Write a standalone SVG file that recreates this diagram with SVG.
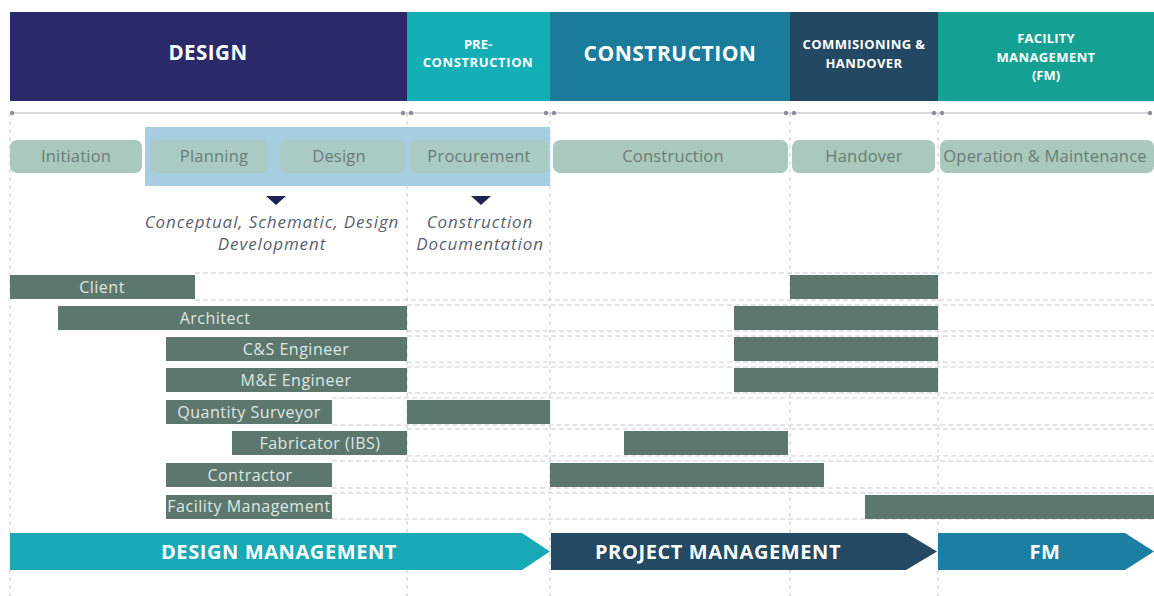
<svg xmlns="http://www.w3.org/2000/svg" width="1154" height="596" viewBox="0 0 1154 596">
<style>
.hd{font-family:"Open Sans","Liberation Sans",sans-serif;font-weight:700;fill:#ffffff;text-anchor:middle}
.pill{fill:#a8c9bb}
.pt{font-family:"Open Sans","Liberation Sans",sans-serif;font-size:16.5px;fill:#6b7c78;text-anchor:middle;letter-spacing:0.2px}
.it{font-family:"Open Sans","Liberation Sans",sans-serif;font-style:italic;font-size:17px;fill:#5a5f72;text-anchor:middle;letter-spacing:0.9px}
.bar{fill:#5c786e}
.bt{font-family:"Open Sans","Liberation Sans",sans-serif;font-size:16px;fill:#dfe7e4;text-anchor:middle;letter-spacing:0.5px}
.vd{stroke:#c4c8cc;stroke-width:1;stroke-dasharray:4 4;fill:none}
.hdash{stroke:#c8ccd2;stroke-width:1;stroke-dasharray:5 3;fill:none}
.ar{font-family:"Open Sans","Liberation Sans",sans-serif;font-weight:700;font-size:20px;fill:#ffffff;text-anchor:middle;letter-spacing:0.6px}
</style>
<rect width="1154" height="596" fill="#ffffff"/>
<g id="connectors">
<line x1="12" y1="113" x2="1150" y2="113" stroke="#b0b4ba" stroke-width="1.2"/>
<g fill="#8a8f96">
<circle cx="12" cy="113" r="2.2"/><circle cx="403" cy="113" r="2.2"/><circle cx="411" cy="113" r="2.2"/>
<circle cx="546" cy="113" r="2.2"/><circle cx="554" cy="113" r="2.2"/><circle cx="786" cy="113" r="2.2"/>
<circle cx="794" cy="113" r="2.2"/><circle cx="934" cy="113" r="2.2"/><circle cx="942" cy="113" r="2.2"/>
<circle cx="1150" cy="113" r="2.2"/>
</g>
<path class="vd" d="M10 113V596M407 113V596M550 113V596M790 113V596M938 113V596"/>
<path class="hdash" d="M195 273H1154M195 300H1154M407 305H1154M407 331H1154M407 336H1154M407 362H1154M407 367H1154M407 393H1154M332 398H1154M332 425H1154M407 429H1154M407 456H1154M332 461H1154M332 488H1154M332 493H1154M332 519H1154"/>
</g>
<g id="header">
<rect x="10" y="12" width="397" height="89" fill="#2a2a6b"/>
<rect x="407" y="12" width="143" height="89" fill="#14aeb7"/>
<rect x="550" y="12" width="240" height="89" fill="#1a7b9a"/>
<rect x="790" y="12" width="148" height="89" fill="#234861"/>
<rect x="938" y="12" width="216" height="89" fill="#14a194"/>
<text class="hd" x="208" y="60" font-size="20.5" letter-spacing="0.5">DESIGN</text>
<text class="hd" x="478" y="49" font-size="13">PRE-</text>
<text class="hd" x="478" y="67" font-size="13" letter-spacing="0.6">CONSTRUCTION</text>
<text class="hd" x="670" y="61" font-size="21" letter-spacing="0.5">CONSTRUCTION</text>
<text class="hd" x="864" y="49" font-size="13" letter-spacing="0.4">COMMISIONING &amp;</text>
<text class="hd" x="864" y="68" font-size="13" letter-spacing="0.4">HANDOVER</text>
<text class="hd" x="1046" y="43" font-size="13" letter-spacing="0.2">FACILITY</text>
<text class="hd" x="1046" y="62" font-size="13" letter-spacing="0.4">MANAGEMENT</text>
<text class="hd" x="1046" y="80" font-size="13">(FM)</text>
</g>
<g id="highlight"><rect x="145" y="127" width="405" height="59" fill="#a6cde0"/></g>
<g id="phases">
<rect class="pill" x="10" y="140" width="132" height="33" rx="7"/>
<rect x="150" y="140" width="118" height="33" rx="7" fill="#a9cbc4"/>
<rect x="280" y="140" width="125" height="33" rx="7" fill="#a9cbc4"/>
<rect x="410" y="140" width="138" height="33" rx="7" fill="#a9cbc4"/>
<rect class="pill" x="553" y="140" width="235" height="33" rx="7"/>
<rect class="pill" x="792" y="140" width="143" height="33" rx="7"/>
<rect class="pill" x="940" y="140" width="214" height="33" rx="7"/>
<text class="pt" x="76" y="162">Initiation</text>
<text class="pt" x="214" y="162">Planning</text>
<text class="pt" x="339" y="162">Design</text>
<text class="pt" x="479" y="162">Procurement</text>
<text class="pt" x="673" y="162">Construction</text>
<text class="pt" x="864" y="162">Handover</text>
<text class="pt" x="1045" y="162" letter-spacing="-0.2">Operation &amp; Maintenance</text>
</g>
<g id="docs">
<path d="M266 196H286L276 205Z" fill="#1f2150"/>
<path d="M471 196H491L481 205Z" fill="#1f2150"/>
<text class="it" x="272" y="228">Conceptual, Schematic, Design</text>
<text class="it" x="272" y="250">Development</text>
<text class="it" x="480" y="228" letter-spacing="0.3">Construction</text>
<text class="it" x="480" y="250" letter-spacing="0.3">Documentation</text>
</g>
<g id="client"><rect class="bar" x="10" y="275" width="185" height="24"/><rect class="bar" x="790" y="275" width="148" height="24"/><text class="bt" x="102" y="293">Client</text></g>
<g id="architect"><rect class="bar" x="58" y="306" width="349" height="24"/><rect class="bar" x="734" y="306" width="204" height="24"/><text class="bt" x="215" y="324">Architect</text></g>
<g id="cs-engineer"><rect class="bar" x="166" y="337" width="241" height="24"/><rect class="bar" x="734" y="337" width="204" height="24"/><text class="bt" x="296" y="355">C&amp;S Engineer</text></g>
<g id="me-engineer"><rect class="bar" x="166" y="368" width="241" height="24"/><rect class="bar" x="734" y="368" width="204" height="24"/><text class="bt" x="296" y="386">M&amp;E Engineer</text></g>
<g id="qs"><rect class="bar" x="166" y="400" width="166" height="24"/><rect class="bar" x="407" y="400" width="143" height="24"/><text class="bt" x="249" y="418" letter-spacing="0.2">Quantity Surveyor</text></g>
<g id="fabricator"><rect class="bar" x="232" y="431" width="175" height="24"/><rect class="bar" x="624" y="431" width="164" height="24"/><text class="bt" x="320" y="449">Fabricator (IBS)</text></g>
<g id="contractor"><rect class="bar" x="166" y="463" width="166" height="24"/><rect class="bar" x="550" y="463" width="274" height="24"/><text class="bt" x="250" y="481">Contractor</text></g>
<g id="fm"><rect class="bar" x="166" y="495" width="166" height="24"/><rect class="bar" x="865" y="495" width="289" height="24"/><text class="bt" x="249" y="512" font-size="11.5" letter-spacing="0">Facility Management</text></g>
<g id="design-management"><path d="M10 533H522L550 551.5L522 570H10Z" fill="#17aab6"/><text class="ar" x="279" y="559">DESIGN MANAGEMENT</text></g>
<g id="project-management"><path d="M551 533H906L937 551.5L906 570H551Z" fill="#234963"/><text class="ar" x="718" y="559">PROJECT MANAGEMENT</text></g>
<g id="fm-arrow"><path d="M938 533H1125L1154 551.5L1125 570H938Z" fill="#1a7fa0"/><text class="ar" x="1045" y="559">FM</text></g>
</svg>
